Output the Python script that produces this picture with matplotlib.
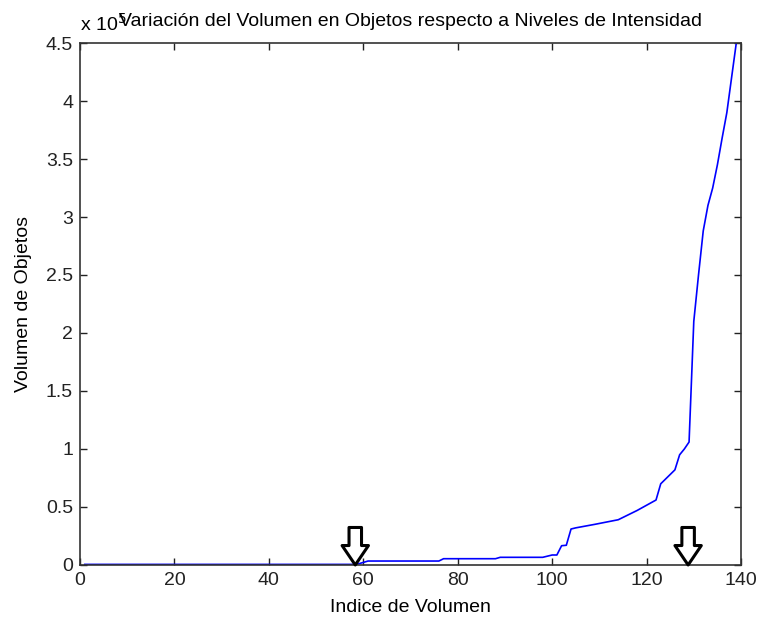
import matplotlib
matplotlib.use("Agg")
import matplotlib.pyplot as plt
from matplotlib.ticker import FuncFormatter

plt.rcParams['font.family'] = ['Liberation Sans', 'DejaVu Sans']

# volume index vs object volume (volume in units of 1e5)
indice = [1, 58, 59, 61, 76, 77, 88, 89, 98, 100, 101, 102, 103, 104, 105,
          109, 114, 118, 122, 123, 126, 127, 128, 129, 130, 131, 132, 133,
          134, 135, 136, 137, 138, 139]
volumen_e5 = [0.005, 0.005, 0.01, 0.034, 0.034, 0.054, 0.054, 0.066, 0.066,
              0.086, 0.086, 0.166, 0.17, 0.31, 0.32, 0.35, 0.39, 0.47, 0.56,
              0.70, 0.82, 0.95, 1.0, 1.06, 2.1, 2.5, 2.88, 3.1, 3.25, 3.45,
              3.68, 3.9, 4.2, 4.5]
volumen = [v * 1e5 for v in volumen_e5]

# arrows marking the two thresholds
flechas_x = [58.3, 128.8]

x_ticks = [0, 20, 40, 60, 80, 100, 120, 140]
y_ticks = [i * 0.5e5 for i in range(10)]

fig = plt.figure(figsize=(7.6, 6.18), dpi=100)
ax = fig.add_axes([0.1053, 0.0858, 0.8697, 0.8446])

ax.plot(indice, volumen, color='#0000ff', lw=1.2)

ax.set_xlim(0, 140)
ax.set_ylim(0, 4.5e5)
ax.set_xticks(x_ticks)
ax.set_yticks(y_ticks)
ax.yaxis.set_major_formatter(FuncFormatter(lambda v, p: f"{v / 1e5:g}"))

ax.tick_params(direction='in', length=5, width=1, top=True, right=True,
               labelsize=14, colors='#222222', pad=5)
for s in ax.spines.values():
    s.set_color('#333333')
    s.set_linewidth(1.2)

ax.set_xlabel("Indice de Volumen", fontsize=14, labelpad=7)
ax.set_ylabel("Volumen de Objetos", fontsize=14, labelpad=10)
ax.set_title("Variación del Volumen en Objetos respecto a Niveles de Intensidad",
             fontsize=14, pad=12)
# exponent label sits right under the start of the title, as in the original
ax.text(0.0, 1.015, r"x 10$^5$", transform=ax.transAxes, fontsize=14,
        ha='left', va='bottom')

for fx in flechas_x:
    ax.annotate("", xy=(fx, 0), xycoords='data',
                xytext=(0, 27), textcoords='offset points',
                arrowprops=dict(arrowstyle="simple,head_length=14,head_width=19,tail_width=9",
                                mutation_scale=1, fc='white', ec='black', lw=2.2,
                                shrinkA=0, shrinkB=0),
                annotation_clip=False)

fig.savefig("out.png", dpi=100)
